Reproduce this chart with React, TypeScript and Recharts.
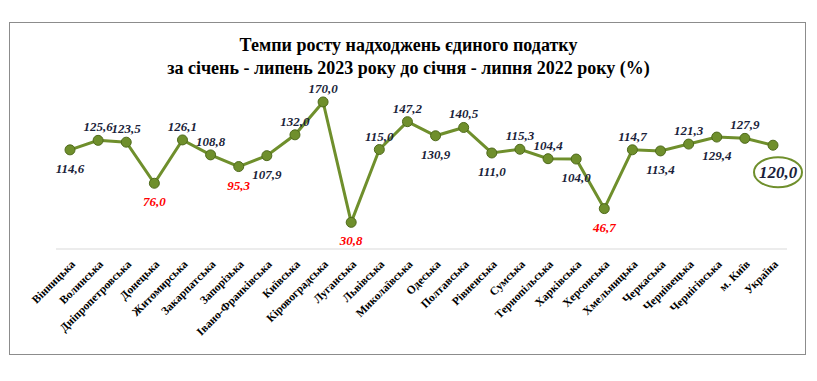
import React from "react";
import { LineChart, Line, XAxis, YAxis, LabelList } from "recharts";

const regions = [
  "Вінницька",
  "Волинська",
  "Дніпропетровська",
  "Донецька",
  "Житомирська",
  "Закарпатська",
  "Запорізька",
  "Івано-Франківська",
  "Київська",
  "Кіровоградська",
  "Луганська",
  "Львівська",
  "Миколаївська",
  "Одеська",
  "Полтавська",
  "Рівненська",
  "Сумська",
  "Тернопільська",
  "Харківська",
  "Херсонська",
  "Хмельницька",
  "Черкаська",
  "Чернівецька",
  "Чернігівська",
  "м. Київ",
  "Україна",
];

const growthRates = [
  114.6, 125.6, 123.5, 76.0, 126.1, 108.8, 95.3, 107.9, 132.0, 170.0, 30.8,
  115.0, 147.2, 130.9, 140.5, 111.0, 115.3, 104.4, 104.0, 46.7, 114.7, 113.4,
  121.3, 129.4, 127.9, 120.0,
];

// regions whose value labels sit under the marker
const labelsBelow = new Set([
  "Вінницька",
  "Донецька",
  "Запорізька",
  "Івано-Франківська",
  "Луганська",
  "Одеська",
  "Рівненська",
  "Харківська",
  "Херсонська",
  "Черкаська",
  "Чернігівська",
]);

const totalName = "Україна";

const data = regions.map((name, i) => ({ name, value: growthRates[i] }));

const SERIF = "'Liberation Serif', 'Times New Roman', serif";
const GREEN = "#6f8f2c";

function fmt(v: number) {
  return v.toFixed(1).replace(".", ",");
}

function RegionTick(props: any) {
  const { x, y, payload } = props;
  return (
    <g transform={`translate(${x + 3},${y + 5})`}>
      <text
        x={0}
        y={0}
        dy={4}
        textAnchor="end"
        transform="rotate(-45)"
        fontFamily={SERIF}
        fontWeight="bold"
        fontSize={11.5}
        fill="#000"
      >
        {payload.value}
      </text>
    </g>
  );
}

function ValueLabel(props: any) {
  const { x, y, value, index } = props;
  const name = regions[index];
  if (name === totalName) {
    return (
      <g>
        <ellipse
          cx={x + 5}
          cy={y + 27}
          rx={24}
          ry={15}
          fill="none"
          stroke={GREEN}
          strokeWidth={2}
        />
        <text
          x={x + 5}
          y={y + 33}
          textAnchor="middle"
          fontFamily={SERIF}
          fontStyle="italic"
          fontWeight="bold"
          fontSize={17}
          fill="#1b1f3b"
        >
          {fmt(value)}
        </text>
      </g>
    );
  }
  const below = labelsBelow.has(name);
  return (
    <text
      x={x}
      y={below ? y + 23 : y - 9}
      textAnchor="middle"
      fontFamily={SERIF}
      fontStyle="italic"
      fontWeight="bold"
      fontSize={13}
      fill={value < 100 ? "#ff0000" : "#1b1f3b"}
    >
      {fmt(value)}
    </text>
  );
}

export default function App() {
  return (
    <div
      style={{
        position: "absolute",
        left: 0,
        top: 0,
        width: 817,
        height: 381,
        background: "#fff",
      }}
    >
      <div
        style={{
          position: "absolute",
          left: 9,
          top: 22,
          width: 795,
          height: 331,
          border: "1.5px solid #8c8c8c",
        }}
      />
      <div
        style={{
          position: "absolute",
          left: 0,
          top: 34,
          width: 817,
          textAlign: "center",
          fontFamily: SERIF,
          fontWeight: "bold",
          fontSize: 18,
          lineHeight: "23px",
          color: "#000",
        }}
      >
        Темпи росту надходжень єдиного податку
        <br />
        за січень - липень 2023 року до січня - липня 2022 року (%)
      </div>
      <div style={{ position: "absolute", left: 0, top: 0 }}>
        <LineChart
          width={817}
          height={381}
          data={data}
          margin={{ top: 76, right: 30, bottom: 32, left: 56 }}
        >
          <XAxis
            dataKey="name"
            interval={0}
            height={100}
            padding={{ left: 14, right: 14 }}
            tickLine={false}
            axisLine={{ stroke: "#d9d9d9", strokeWidth: 1 }}
            tick={<RegionTick />}
          />
          <YAxis hide domain={[0, 200]} />
          <Line
            type="linear"
            dataKey="value"
            stroke={GREEN}
            strokeWidth={3}
            dot={{ r: 5, fill: GREEN, stroke: "#4f6a1c", strokeWidth: 1 }}
            isAnimationActive={false}
          >
            <LabelList dataKey="value" content={<ValueLabel />} />
          </Line>
        </LineChart>
      </div>
    </div>
  );
}
